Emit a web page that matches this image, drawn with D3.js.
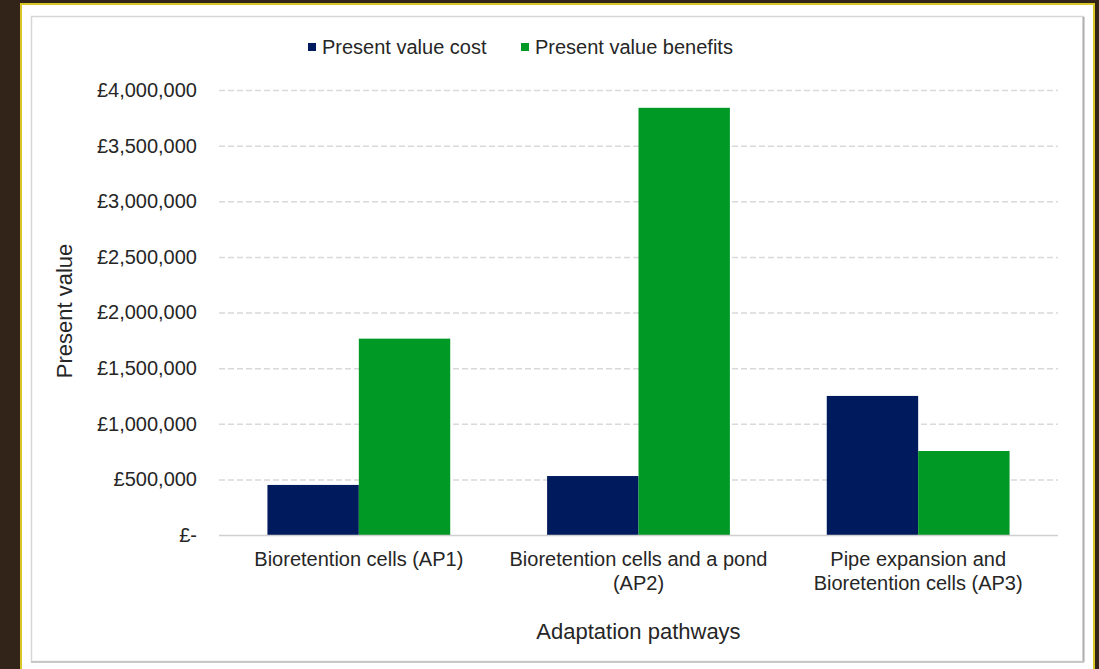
<!DOCTYPE html>
<html><head><meta charset="utf-8">
<script src="https://cdn.jsdelivr.net/npm/d3@7"></script>
<style>
html,body{margin:0;padding:0;background:#33241a;}
svg{display:block;font-family:"Liberation Sans",Arial,sans-serif;}
</style></head>
<body>
<svg id="c" width="1099" height="669"></svg>
<script>
const categories = [["Bioretention cells (AP1)"], ["Bioretention cells and a pond", "(AP2)"], ["Pipe expansion and", "Bioretention cells (AP3)"]];
const categoryKeys = ["AP1", "AP2", "AP3"];
const seriesNames = ["Present value cost", "Present value benefits"];
const seriesColors = ["#001a5e", "#009925"];
const costValues = [450000, 530000, 1250000];
const benefitValues = [1765000, 3840000, 755000];
const yTicks = [0, 500000, 1000000, 1500000, 2000000, 2500000, 3000000, 3500000, 4000000];
const yTickLabels = ["£-", "£500,000", "£1,000,000", "£1,500,000", "£2,000,000", "£2,500,000", "£3,000,000", "£3,500,000", "£4,000,000"];
const xTitle = "Adaptation pathways";
const yTitle = "Present value";

(function(){
const svg = d3.select("#c");
// page frame
svg.append("rect").attr("x",0).attr("y",0).attr("width",1099).attr("height",669).attr("fill","#33241a");
svg.append("rect").attr("x",21).attr("y",4).attr("width",1073).attr("height",680).attr("fill","#ffffff").attr("stroke","#d8c624").attr("stroke-width",2);
svg.append("rect").attr("x",31.5).attr("y",16.5).attr("width",1052).attr("height",645).attr("fill","#fff").attr("stroke","#d6d6d6").attr("stroke-width",1.5);
svg.append("line").attr("x1",1083.5).attr("x2",1083.5).attr("y1",17).attr("y2",662).attr("stroke","#b0b0b0").attr("stroke-width",2);
svg.append("line").attr("x1",31).attr("x2",1084).attr("y1",662).attr("y2",662).attr("stroke","#c8c8c8").attr("stroke-width",2);

const pl = 219, pr = 1058, pt = 90, pb = 535;
const y = d3.scaleLinear().domain([0, 4000000]).range([pb, pt]);
const x0 = d3.scaleBand().domain(categoryKeys).range([pl, pr]).padding(0);
const x1 = d3.scaleBand().domain(seriesNames).range([0, x0.bandwidth()]).paddingInner(0).paddingOuter(0.53);

const g = svg.append("g");
const yAxis = d3.axisLeft(y).tickValues(yTicks).tickFormat((d,i)=>yTickLabels[i]).tickSize(0).tickPadding(22);
const ya = g.append("g").attr("transform",`translate(${pl},0)`).call(yAxis);
ya.select(".domain").remove();
ya.selectAll("text").attr("font-size",20).attr("fill","#262626").attr("font-family","Liberation Sans, Arial, sans-serif");

g.selectAll("line.grid").data(yTicks.filter(d=>d>0)).enter().append("line")
  .attr("class","grid").attr("x1",pl).attr("x2",pr)
  .attr("y1",d=>y(d)+0.5).attr("y2",d=>y(d)+0.5)
  .attr("stroke","#d9d9d9").attr("stroke-width",1.5).attr("stroke-dasharray","6,3");

const data = categoryKeys.map((k,i)=>({key:k, values:[costValues[i], benefitValues[i]]}));
const grp = g.selectAll("g.cat").data(data).enter().append("g").attr("transform",d=>`translate(${x0(d.key)},0)`);
grp.selectAll("rect").data(d=>d.values.map((v,j)=>({name:seriesNames[j], v, j}))).enter().append("rect")
  .attr("x",d=>x1(d.name)).attr("width",x1.bandwidth())
  .attr("y",d=>y(d.v)).attr("height",d=>y(0)-y(d.v))
  .attr("fill",d=>seriesColors[d.j]);

g.append("line").attr("x1",pl).attr("x2",pr).attr("y1",pb+0.5).attr("y2",pb+0.5).attr("stroke","#d0d0d0").attr("stroke-width",1.5);

const xa = g.append("g").attr("transform",`translate(0,${pb})`);
categoryKeys.forEach((k,i)=>{
  const cx = x0(k)+x0.bandwidth()/2;
  const t = xa.append("text").attr("x",cx).attr("y",31).attr("text-anchor","middle")
    .attr("font-size",20).attr("fill","#262626");
  categories[i].forEach((line,li)=>t.append("tspan").attr("x",cx).attr("dy",li===0?0:24).text(line));
});

svg.append("text").attr("x",(pl+pr)/2).attr("y",639).attr("text-anchor","middle").attr("font-size",22).attr("fill","#262626").text(xTitle);
svg.append("text").attr("transform",`translate(72,311) rotate(-90)`).attr("text-anchor","middle").attr("font-size",22).attr("fill","#262626").text(yTitle);

const legX = [308, 521];
seriesNames.forEach((n,i)=>{
  svg.append("rect").attr("x",legX[i]).attr("y",43).attr("width",8).attr("height",8).attr("fill",seriesColors[i]);
  svg.append("text").attr("x",legX[i]+14).attr("y",54).attr("font-size",20).attr("fill","#262626").text(n);
});
})();
</script>
</body></html>
